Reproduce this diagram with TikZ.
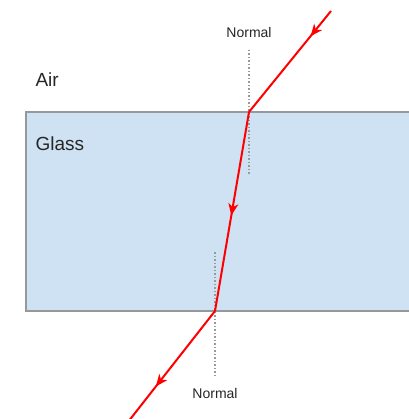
\documentclass[tikz,border=0pt]{standalone}
\usepackage{fontspec}
\setmainfont{Liberation Sans}
\usetikzlibrary{arrows.meta,decorations.markings}
\definecolor{glassblue}{RGB}{207,226,243}
\definecolor{edgegray}{RGB}{150,152,155}
\tikzset{
  ray/.style={draw=red,line width=2pt},
  midarrow/.style={postaction={decorate},decoration={markings,mark=at position #1 with {\arrow{Stealth[length=12pt,width=10pt,inset=3.5pt]}}}},
  normalline/.style={draw=gray!80,line width=1.2pt,dash pattern=on 1.5pt off 2pt},
  lbl/.style={font=\fontsize{14}{16}\selectfont,text=black!85},
  medium/.style={font=\fontsize{19}{22}\selectfont,text=black!85,anchor=west}
}
\begin{document}
\begin{tikzpicture}[x=1pt,y=-1pt]
\useasboundingbox (0,0) rectangle (408,419);
\fill[glassblue] (26,112) rectangle (410,311);
\draw[edgegray,line width=1.6pt] (412,112) -- (26,112) -- (26,311) -- (412,311);
\node[medium] (air) at (32,80) {Air};
\node[medium] (glass) at (32,144) {Glass};
\coordinate (n1top) at (249,50);
\coordinate (n1bot) at (249,176);
\coordinate (n2top) at (215,252);
\coordinate (n2bot) at (215,376);
\draw[normalline] (n1top) -- (n1bot);
\draw[normalline] (n2top) -- (n2bot);
\node[lbl] (normal1) at (249,33) {Normal};
\node[lbl] (normal2) at (215,393) {Normal};
\coordinate (start) at (331,11);
\coordinate (p1) at (249,112);
\coordinate (p2) at (215,311);
\coordinate (end) at (128,422);
\draw[ray,midarrow=0.25] (start) -- (p1);
\draw[ray,midarrow=0.52] (p1) -- (p2);
\draw[ray,midarrow=0.68] (p2) -- (end);
\end{tikzpicture}
\end{document}
